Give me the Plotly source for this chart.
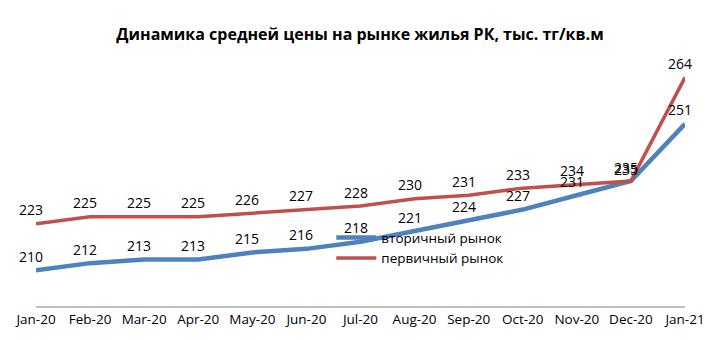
import plotly.graph_objects as go

months = ["Jan-20", "Feb-20", "Mar-20", "Apr-20", "May-20", "Jun-20", "Jul-20",
          "Aug-20", "Sep-20", "Oct-20", "Nov-20", "Dec-20", "Jan-21"]
secondary = [210, 212, 213, 213, 215, 216, 218, 221, 224, 227, 231, 235, 251]
primary = [223, 225, 225, 225, 226, 227, 228, 230, 231, 233, 234, 235, 264]

FONT = "Open Sans"
BLUE = "#4F81BD"
RED = "#C0504D"

fig = go.Figure()
fig.add_trace(go.Scatter(
    x=months, y=secondary, name="вторичный рынок", mode="lines",
    line=dict(color=BLUE, width=4.5), cliponaxis=False,
))
fig.add_trace(go.Scatter(
    x=months, y=primary, name="первичный рынок", mode="lines",
    line=dict(color=RED, width=3.5), cliponaxis=False,
))

# value labels above each point
annotations = []
for series, dy in ((secondary, 12), (primary, 14)):
    for m, v in zip(months, series):
        annotations.append(dict(
            x=m, y=v, xref="x", yref="y", text=str(v), showarrow=False,
            xshift=-5, yshift=dy if m == "Dec-20" else 14,
            font=dict(family=FONT, size=14, color="#000000"),
        ))

fig.update_layout(
    width=720, height=340,
    margin=dict(l=36, r=35, t=56, b=32),
    paper_bgcolor="white", plot_bgcolor="white",
    title=dict(text="<b>Динамика средней цены на рынке жилья РК, тыс. тг/кв.м</b>",
               x=0.5, xanchor="center", y=0.9, yanchor="middle",
               font=dict(family=FONT, size=16, color="#000000")),
    font=dict(family=FONT, size=13, color="#000000"),
    showlegend=True,
    legend=dict(x=0.455, y=0.335, xanchor="left", yanchor="top",
                bgcolor="rgba(0,0,0,0)", font=dict(family=FONT, size=13.5),
                itemwidth=40),
    annotations=annotations,
    xaxis=dict(type="category", range=[0, 12], showgrid=False, zeroline=False,
               showline=True, linecolor="#BFBFBF", linewidth=1.5, ticks="",
               tickfont=dict(family=FONT, size=13.5)),
    yaxis=dict(range=[200, 270], visible=False, showgrid=False, zeroline=False),
)

fig.write_html("out.html")
